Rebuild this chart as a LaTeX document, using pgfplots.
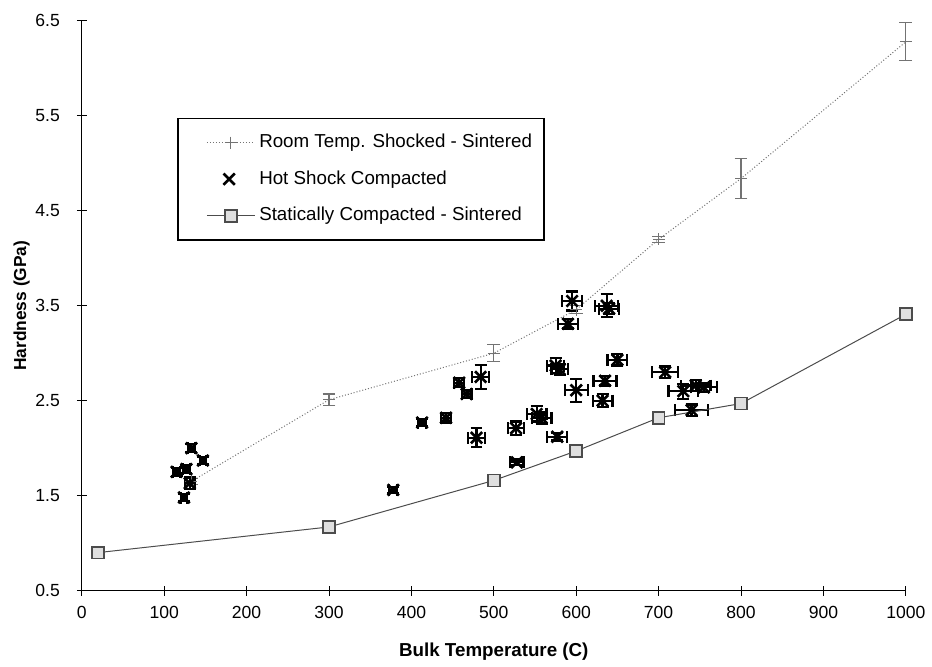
\documentclass[border=0pt]{standalone}
\usepackage{fontspec}
\setmainfont{Liberation Sans}
\usepackage{pgfplots}
\pgfplotsset{compat=1.18}
\definecolor{rtgray}{gray}{0.45}
\definecolor{scgray}{gray}{0.3}

\begin{document}
\begin{tikzpicture}
\begin{axis}[
    scale only axis,
    width=413pt, height=285.5pt,
    xmin=0, xmax=1000,
    ymin=0.5, ymax=6.5,
    xtick={0,100,...,1000},
    ytick={0.5,1.5,2.5,3.5,4.5,5.5,6.5},
    yticklabels={0.5,1.5,2.5,3.5,4.5,5.5,6.5},
    axis x line*=bottom,
    axis y line*=left,
    axis line style={line width=0.7pt},
    tick align=center,
    major tick length=5pt,
    tick style={black, line width=0.5pt},
    ticklabel style={font=\fontsize{8.8}{10}\selectfont},
    /pgf/number format/assume math mode=true,
    /pgf/number format/1000 sep={},
    xticklabel style={yshift=-2pt},
    yticklabel style={xshift=-5pt},
    xlabel={\bfseries Bulk Temperature (C)},
    ylabel={\bfseries Hardness (GPa)},
    xlabel style={font=\fontsize{9.4}{10}\selectfont, yshift=-5pt},
    ylabel style={font=\fontsize{8.7}{10}\selectfont, yshift=-4pt},
    clip=false,
    legend style={at={(0.116,0.83)}, anchor=north west,
        draw=black, line width=0.6pt,
        font=\fontsize{9.4}{11}\selectfont,
        row sep=6pt, inner xsep=4pt, inner ysep=6pt},
    legend cell align=left,
]
% room temperature shocked - sintered
\addplot[rtgray, densely dotted, line width=0.5pt,
    mark=+, mark size=3pt, mark options={solid, line width=0.6pt},
    legend image code/.code={\path (0cm,0cm) (1.2cm,0cm);
        \draw[mark repeat=2, mark phase=2] plot coordinates {(0.36cm,0cm) (0.78cm,0cm) (1.2cm,0cm)};},
    error bars/.cd, y dir=both, y explicit,
    error bar style={solid, rtgray, line width=0.6pt},
    error mark options={rotate=90, rtgray, mark size=3.2pt, line width=0.6pt}]
coordinates {
    (133,1.65) +- (0,0.03)
    (300,2.51) +- (0,0.06)
    (500,3.00) +- (0,0.09)
    (600,3.46) +- (0,0.04)
    (700,4.20) +- (0,0.03)
    (800,4.84) +- (0,0.21)
    (1000,6.28) +- (0,0.20)
};
% hot shock compacted
\addplot[black, only marks, mark=x, mark size=4pt,
    mark options={line width=1.3pt},
    legend image code/.code={\path (0cm,0cm) (1.2cm,0cm);
        \draw plot coordinates {(0.75cm,0cm)};},
    error bars/.cd, x dir=both, x explicit, y dir=both, y explicit,
    error bar style={black, line width=1.1pt},
    error mark options={rotate=90, black, mark size=3pt, line width=1.1pt}]
coordinates {
    (115,1.75) +- (4,0.04)
    (127,1.78) +- (4,0.04)
    (133,2.00) +- (4,0.04)
    (147,1.87) +- (4,0.04)
    (131,1.63) +- (6,0.06)
    (124,1.48) +- (4,0.04)
    (378,1.56) +- (5,0.03)
    (413,2.27) +- (5,0.04)
    (442,2.32) +- (6,0.05)
    (458,2.69) +- (6,0.05)
    (467,2.57) +- (6,0.04)
    (484,2.75) +- (10,0.13)
    (479,2.11) +- (10,0.10)
    (527,2.21) +- (10,0.07)
    (528,1.85) +- (8,0.03)
    (552,2.36) +- (12,0.08)
    (558,2.32) +- (12,0.06)
    (577,2.12) +- (12,0.04)
    (575,2.87) +- (10,0.08)
    (580,2.83) +- (10,0.06)
    (595,3.55) +- (12,0.10)
    (590,3.31) +- (12,0.05)
    (637,3.50) +- (14,0.12)
    (640,3.47) +- (12,0.06)
    (650,2.93) +- (12,0.06)
    (600,2.61) +- (14,0.12)
    (635,2.71) +- (14,0.05)
    (632,2.50) +- (12,0.07)
    (708,2.80) +- (16,0.06)
    (730,2.60) +- (18,0.08)
    (745,2.66) +- (18,0.06)
    (755,2.64) +- (16,0.05)
    (740,2.40) +- (20,0.06)
};
% statically compacted - sintered
\addplot[scgray, line width=0.5pt,
    mark=square*, mark size=3pt,
    mark options={fill=gray!25, draw=scgray, line width=0.9pt},
    legend image code/.code={\path (0cm,0cm) (1.2cm,0cm);
        \draw[mark repeat=2, mark phase=2] plot coordinates {(0.36cm,0cm) (0.78cm,0cm) (1.2cm,0cm)};},
    error bars/.cd, y dir=both, y explicit,
    error bar style={scgray, line width=0.6pt},
    error mark options={rotate=90, scgray, mark size=3pt, line width=0.6pt}]
coordinates {
    (20,0.90) +- (0,0.02)
    (300,1.17) +- (0,0.03)
    (500,1.66) +- (0,0.04)
    (600,1.97) +- (0,0.04)
    (700,2.32) +- (0,0.04)
    (800,2.47) +- (0,0.05)
    (1000,3.41) +- (0,0.05)
};
\legend{Room Temp. Shocked - Sintered, Hot Shock Compacted, Statically Compacted - Sintered}
\end{axis}
% page margins as in the reference
\path ([xshift=-41pt,yshift=-37pt]current axis.south west)
      ([xshift=12pt,yshift=10.5pt]current axis.north east);
\end{tikzpicture}
\end{document}
